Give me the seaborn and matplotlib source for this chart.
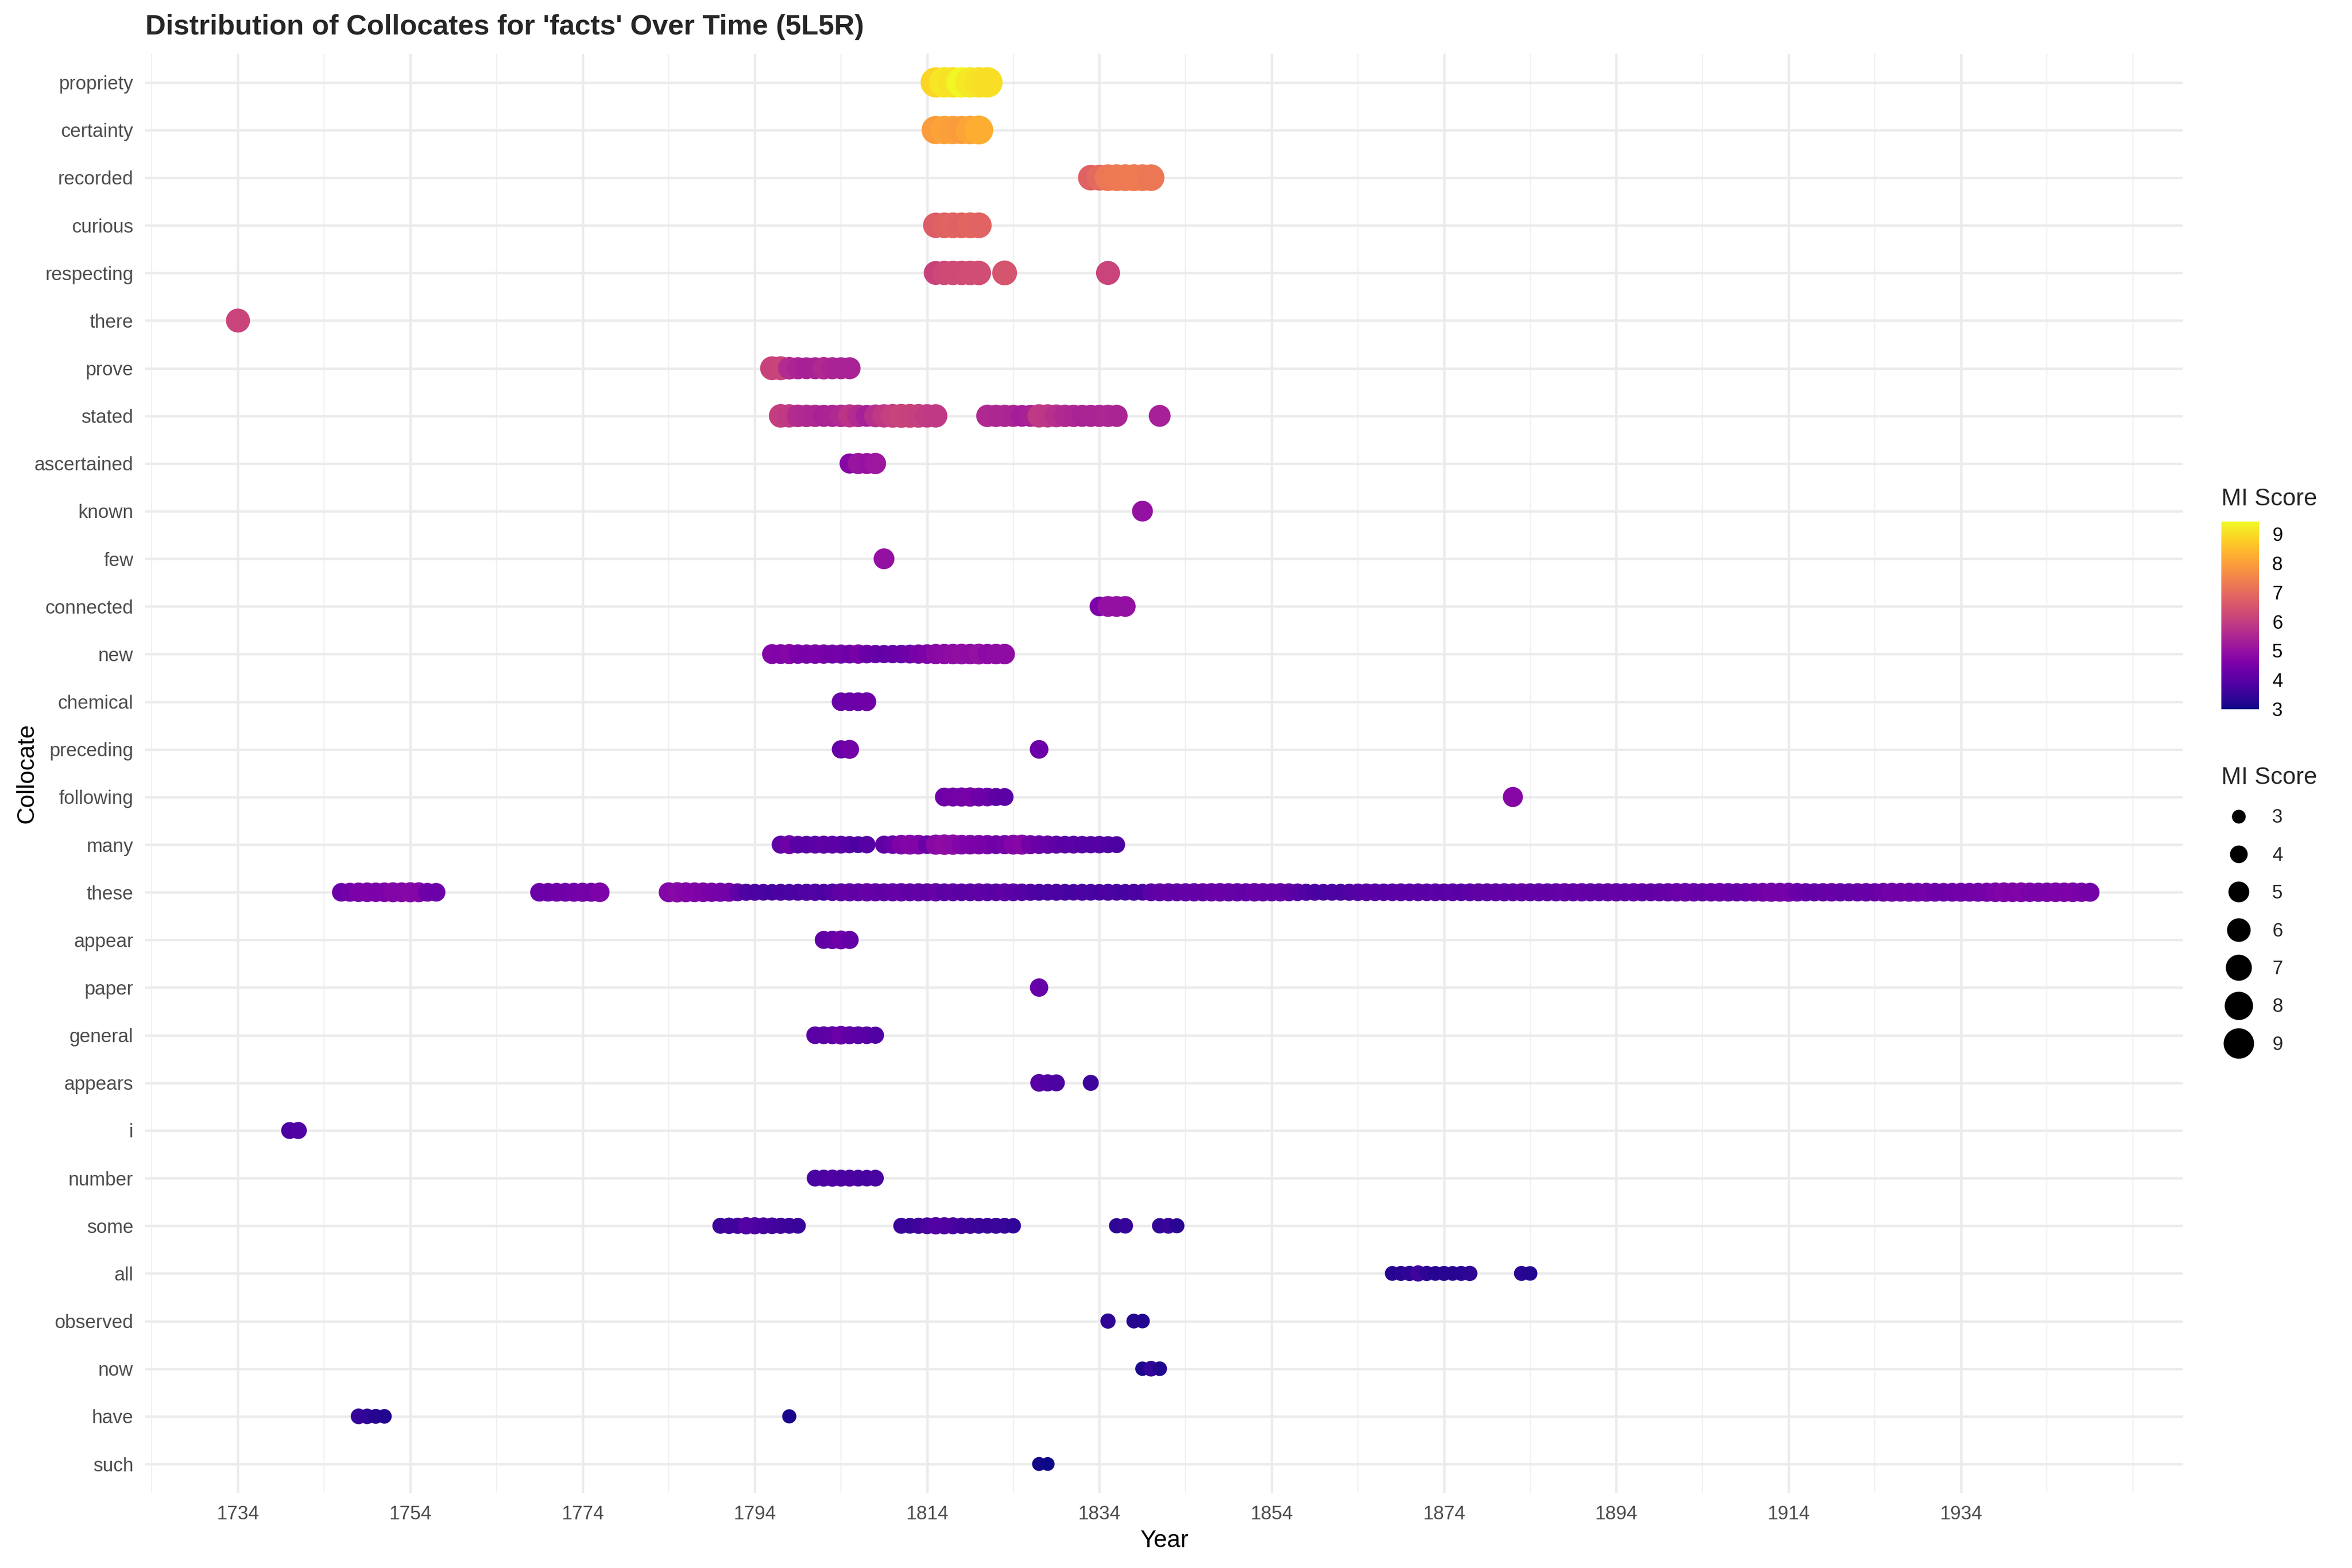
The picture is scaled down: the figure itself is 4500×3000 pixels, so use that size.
import numpy as np
import pandas as pd
import matplotlib
matplotlib.use("Agg")
import matplotlib.pyplot as plt
from matplotlib.colors import Normalize
from matplotlib.cm import ScalarMappable
from matplotlib.lines import Line2D
import seaborn as sns


# y axis order, bottom to top
collocates = ["such", "have", "now", "observed", "all", "some", "number", "i",
              "appears", "general", "paper", "appear", "these", "many",
              "following", "preceding", "chemical", "new", "connected", "few",
              "known", "ascertained", "stated", "prove", "there", "respecting",
              "curious", "recorded", "certainty", "propriety"]

# years each collocate shows up and its MI score that year
propriety_years = [1815, 1816, 1817, 1818, 1819, 1820, 1821]
propriety_mi = [8.9, 9.15, 9.1, 9.4, 9.2, 9.1, 9.05]

certainty_years = [1815, 1816, 1817, 1818, 1819, 1820]
certainty_mi = [7.95, 8.05, 8.0, 7.95, 8.1, 8.25]

recorded_years = [1833, 1834, 1835, 1836, 1837, 1838, 1839, 1840]
recorded_mi = [6.8, 6.95, 7.25, 7.3, 7.3, 7.35, 7.3, 7.25]

curious_years = [1815, 1816, 1817, 1818, 1819, 1820]
curious_mi = [6.7, 6.8, 6.85, 6.8, 6.9, 6.85]

respecting_years = [1815, 1816, 1817, 1818, 1819, 1820, 1823, 1835]
respecting_mi = [6.1, 6.25, 6.3, 6.3, 6.35, 6.35, 6.5, 6.15]

there_years = [1734]
there_mi = [6.15]

prove_years = [*range(1796, 1806)]
prove_mi = [6.1, 6.15, 5.6, 5.45, 5.35, 5.4, 5.55, 5.45, 5.4, 5.4]

stated_years = [*range(1797, 1816), *range(1821, 1837), 1841]
stated_mi = [6.0, 5.9, 5.6, 5.55, 5.5, 5.4, 5.45, 5.55, 5.8, 5.6,
             5.35, 5.7, 5.9, 6.05, 6.15, 6.1, 6.05, 5.95, 5.9,
             5.55, 5.5, 5.5, 5.45, 5.3, 5.4, 5.9, 5.85, 5.7, 5.55,
             5.5, 5.4, 5.45, 5.45, 5.5, 5.45,
             5.35]

ascertained_years = [1805, 1806, 1807, 1808]
ascertained_mi = [4.75, 5.1, 5.05, 5.15]

known_years = [1839]
known_mi = [5.0]

few_years = [1809]
few_mi = [5.0]

connected_years = [1834, 1835, 1836, 1837]
connected_mi = [4.6, 5.0, 5.0, 5.0]

new_years = [*range(1796, 1824)]
new_mi = [4.7, 4.65, 4.75, 4.55, 4.5, 4.55, 4.5, 4.4, 4.45, 4.35,
          4.5, 4.3, 4.2, 4.15, 4.2, 4.25, 4.35, 4.5, 4.6, 4.8,
          4.85, 4.9, 4.95, 4.9, 5.0, 4.85, 4.9, 4.9]

chemical_years = [1804, 1805, 1806, 1807]
chemical_mi = [4.25, 4.3, 4.3, 4.35]

preceding_years = [1804, 1805, 1827]
preceding_mi = [4.2, 4.4, 4.3]

following_years = [1816, 1817, 1818, 1819, 1820, 1821, 1822, 1823, 1882]
following_mi = [4.35, 4.4, 4.45, 4.5, 4.35, 4.3, 4.1, 4.05, 4.75]

many_years = [*range(1797, 1808), *range(1809, 1837)]
many_mi = [4.1, 4.35, 4.0, 4.0, 4.05, 4.1, 4.05, 4.05, 3.9, 3.8, 3.95,
           4.1, 4.25, 4.6, 4.7, 4.65, 4.3, 4.8, 4.9, 4.85, 4.65,
           4.6, 4.55, 4.5, 4.35, 4.45, 4.7, 4.75, 4.4, 4.3, 4.2,
           4.1, 4.0, 4.05, 3.95, 3.9, 3.95, 3.85, 3.8]

these_years = [*range(1746, 1758), *range(1769, 1777), *range(1784, 1950)]
these_mi = [4.3, 4.4, 4.55, 4.6, 4.55, 4.6, 4.7, 4.65, 4.75, 4.7, 4.35, 4.3,
            4.3, 4.3, 4.35, 4.35, 4.4, 4.45, 4.4, 4.6,
            4.7, 4.8, 4.7, 4.65, 4.6, 4.5,                              # 1784-89
            4.45, 4.4, 4.1, 3.85, 3.8, 3.75, 3.7, 3.8, 3.75, 3.8,      # 1790s
            3.85, 3.9, 3.8, 3.95, 4.1, 4.15, 4.1, 4.2, 4.15, 4.1,      # 1800s
            4.15, 4.2, 4.1, 4.15, 4.1, 4.2, 4.05, 4.1, 4.0, 4.05,      # 1810s
            4.1, 4.05, 4.0, 4.1, 4.05, 3.95, 3.85, 3.8, 3.75, 3.8,     # 1820s
            3.75, 3.7, 3.8, 3.75, 3.7, 3.8, 3.75, 3.7, 3.8, 3.75,      # 1830s
            4.05, 4.1, 4.15, 4.1, 4.15, 4.2, 4.15, 4.2, 4.25, 4.2,     # 1840s
            4.2, 4.15, 4.25, 4.2, 4.15, 4.2, 4.1, 4.0, 3.85, 3.8,      # 1850s
            3.75, 3.8, 3.8, 3.85, 3.95, 4.0, 4.0, 3.95, 4.0, 4.05,     # 1860s
            4.0, 4.05, 4.0, 4.05, 4.0, 4.05, 4.0, 4.05, 4.1, 4.1,      # 1870s
            4.1, 4.15, 4.1, 4.15, 4.1, 4.15, 4.1, 4.15, 4.2, 4.15,     # 1880s
            4.2, 4.15, 4.1, 4.15, 4.2, 4.15, 4.2, 4.15, 4.1, 4.15,     # 1890s
            4.2, 4.25, 4.3, 4.25, 4.2, 4.25, 4.3, 4.25, 4.2, 4.25,     # 1900s
            4.3, 4.35, 4.45, 4.4, 4.45, 4.3, 4.2, 4.15, 4.2, 4.25,     # 1910s
            4.2, 4.15, 4.2, 4.25, 4.2, 4.35, 4.4, 4.35, 4.4, 4.35,     # 1920s
            4.4, 4.35, 4.3, 4.35, 4.4, 4.35, 4.4, 4.45, 4.6, 4.65,     # 1930s
            4.6, 4.65, 4.55, 4.5, 4.55, 4.6, 4.55, 4.6, 4.5, 4.4]      # 1940s

appear_years = [1802, 1803, 1804, 1805]
appear_mi = [4.1, 4.2, 4.35, 4.15]

paper_years = [1827]
paper_mi = [4.2]

general_years = [*range(1801, 1809)]
general_mi = [4.0, 4.05, 4.1, 4.3, 4.1, 4.05, 4.0, 3.85]

appears_years = [1827, 1828, 1829, 1833]
appears_mi = [4.0, 3.85, 3.8, 3.55]

i_years = [1740, 1741]
i_mi = [3.8, 3.85]

number_years = [*range(1801, 1809)]
number_mi = [3.75, 3.8, 3.85, 3.8, 3.8, 3.75, 3.7, 3.75]

some_years = [*range(1790, 1800), *range(1811, 1825), 1836, 1837, 1841, 1842, 1843]
some_mi = [3.55, 3.65, 3.6, 3.9, 3.85, 3.75, 3.7, 3.6, 3.55, 3.5,
           3.55, 3.5, 3.6, 3.75, 3.9, 3.85, 3.8, 3.65, 3.6, 3.55, 3.5, 3.55, 3.5, 3.4,
           3.35, 3.45, 3.4, 3.5, 3.3]

all_years = [*range(1868, 1878), 1883, 1884]
all_mi = [3.25, 3.3, 3.35, 3.6, 3.35, 3.25, 3.3, 3.25, 3.3, 3.35, 3.3, 3.2]

observed_years = [1835, 1838, 1839]
observed_mi = [3.35, 3.25, 3.2]

now_years = [1839, 1840, 1841]
now_mi = [3.15, 3.45, 3.2]

have_years = [1748, 1749, 1750, 1751, 1798]
have_mi = [3.45, 3.4, 3.25, 3.2, 3.1]

such_years = [1827, 1828]
such_mi = [3.05, 3.0]

series = {
    "such": (such_years, such_mi), "have": (have_years, have_mi),
    "now": (now_years, now_mi), "observed": (observed_years, observed_mi),
    "all": (all_years, all_mi), "some": (some_years, some_mi),
    "number": (number_years, number_mi), "i": (i_years, i_mi),
    "appears": (appears_years, appears_mi), "general": (general_years, general_mi),
    "paper": (paper_years, paper_mi), "appear": (appear_years, appear_mi),
    "these": (these_years, these_mi), "many": (many_years, many_mi),
    "following": (following_years, following_mi),
    "preceding": (preceding_years, preceding_mi),
    "chemical": (chemical_years, chemical_mi), "new": (new_years, new_mi),
    "connected": (connected_years, connected_mi), "few": (few_years, few_mi),
    "known": (known_years, known_mi),
    "ascertained": (ascertained_years, ascertained_mi),
    "stated": (stated_years, stated_mi), "prove": (prove_years, prove_mi),
    "there": (there_years, there_mi),
    "respecting": (respecting_years, respecting_mi),
    "curious": (curious_years, curious_mi),
    "recorded": (recorded_years, recorded_mi),
    "certainty": (certainty_years, certainty_mi),
    "propriety": (propriety_years, propriety_mi),
}

rows = []
for name in collocates:
    yrs, mis = series[name]
    for yr, mi in zip(yrs, mis):
        rows.append({"collocate": name, "year": yr, "mi": mi})
df = pd.DataFrame(rows)
df["collocate"] = pd.Categorical(df["collocate"], categories=collocates, ordered=True)

# colour / size scales
hue_lims = (2.99, 9.43)
size_lims = (3, 9)
size_range = (40, 195)

sns.set_style("white")
plt.rcParams["font.family"] = ["Liberation Sans", "DejaVu Sans"]

fig = plt.figure(figsize=(15, 10), dpi=300)
ax = fig.add_axes([0.0618, 0.0481, 0.8662, 0.9176])

sns.scatterplot(data=df, x="year", y="collocate", hue="mi", size="mi",
                palette="plasma", hue_norm=hue_lims,
                sizes=size_range, size_norm=size_lims,
                linewidth=0, alpha=1, legend=False, ax=ax)

ax.set_xlim(1723.25, 1959.75)
ax.set_ylim(-0.6, len(collocates) - 0.4)
ax.set_yticks(range(len(collocates)))
ax.set_yticklabels(collocates)

major_x = list(range(1734, 1935, 20))
minor_x = [y for y in range(1724, 1955, 10) if y not in major_x]
ax.set_xticks(major_x)
ax.set_xticks(minor_x, minor=True)

ax.set_axisbelow(True)
ax.grid(which="major", color="#EBEBEB", linewidth=1.1)
ax.grid(which="minor", axis="x", color="#F1F1F1", linewidth=0.55)
for s in ax.spines.values():
    s.set_visible(False)

ax.tick_params(axis="both", which="both", length=0, labelsize=8.8, labelcolor="#4D4D4D")
ax.tick_params(axis="x", pad=5.8)
ax.tick_params(axis="y", pad=5.5)

ax.set_xlabel("Year", fontsize=11, color="black")
ax.set_ylabel("Collocate", fontsize=11, color="black")
ax.xaxis.set_label_coords(0.5, -0.0334)
ax.xaxis.label.set_va("center")
ax.yaxis.set_label_coords(-0.058, 0.5)
ax.yaxis.label.set_va("center")

fig.text(0.0618, 0.978, "Distribution of Collocates for 'facts' Over Time (5L5R)",
         fontsize=13, fontweight="bold", ha="left", va="baseline")

# colour bar legend
cax = fig.add_axes([0.9444, 0.5477, 0.016, 0.1197])
sm = ScalarMappable(norm=Normalize(*hue_lims), cmap="plasma")
cb = fig.colorbar(sm, cax=cax, ticks=[3, 4, 5, 6, 7, 8, 9])
cb.outline.set_visible(False)
cax.tick_params(left=True, right=True, direction="in", color="white",
                length=3.5, width=0.6, labelsize=8.8, labelcolor="black", pad=6)
cax.set_title("MI Score", loc="left", fontsize=11, pad=7.4)

# size legend
def point_area(v):
    return size_range[0] + (v - size_lims[0]) / (size_lims[1] - size_lims[0]) * (size_range[1] - size_range[0])

legend_vals = [3, 4, 5, 6, 7, 8, 9]
handles = [Line2D([], [], marker="o", linestyle="", color="black",
                  markeredgewidth=0, markersize=np.sqrt(point_area(v)))
           for v in legend_vals]
leg = fig.legend(handles, [str(v) for v in legend_vals], title="MI Score",
                 loc="upper left", bbox_to_anchor=(0.9444, 0.5113),
                 frameon=False, fontsize=8.8, title_fontsize=11,
                 borderpad=0, borderaxespad=0, labelspacing=1.02,
                 handlelength=1.8, handletextpad=0.85, alignment="left")

fig.savefig("out.png", dpi=300)
